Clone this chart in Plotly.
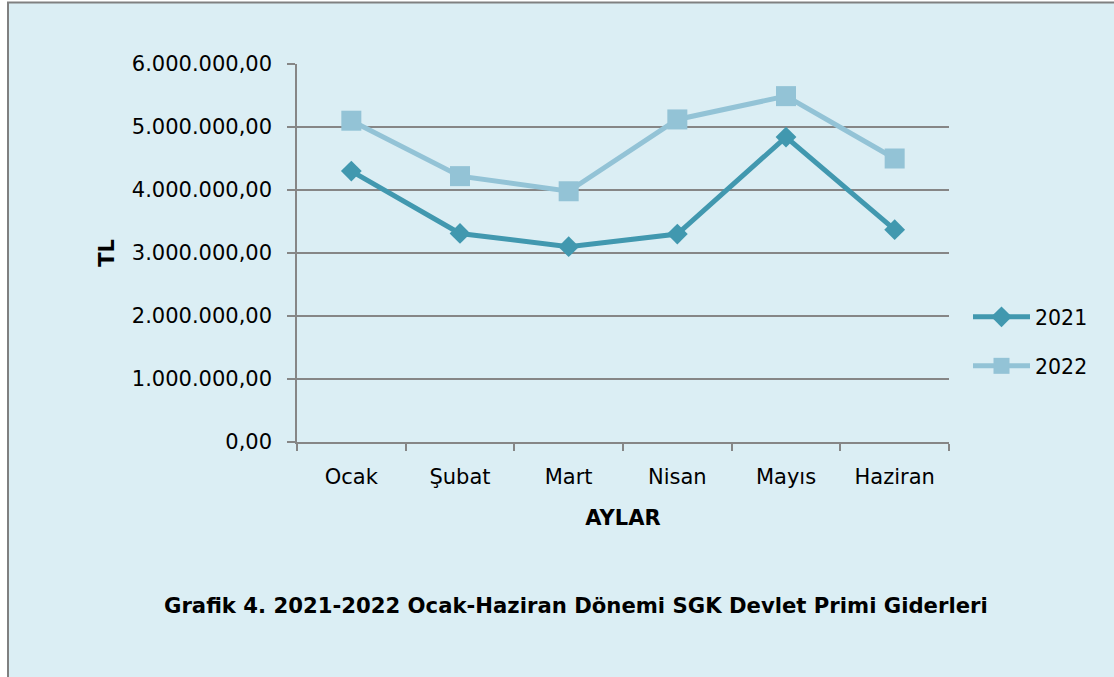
import plotly.graph_objects as go

months = ["Ocak", "Şubat", "Mart", "Nisan", "Mayıs", "Haziran"]
values_2021 = [4300000, 3310000, 3100000, 3300000, 4840000, 3370000]
values_2022 = [5100000, 4220000, 3980000, 5120000, 5490000, 4500000]
y_ticks = [0, 1000000, 2000000, 3000000, 4000000, 5000000, 6000000]

W, H = 1114, 677
FONT = "DejaVu Sans"
C21 = "#4198AF"
C22 = "#93C3D6"
BG = "#DBEEF4"
GRID = "#868686"

fig = go.Figure()
fig.add_trace(go.Scatter(
    x=months, y=values_2021, name="2021", mode="lines+markers",
    line=dict(color=C21, width=5),
    marker=dict(symbol="diamond", size=16, color=C21),
    legend="legend",
))
fig.add_trace(go.Scatter(
    x=months, y=values_2022, name="2022", mode="lines+markers",
    line=dict(color=C22, width=5),
    marker=dict(symbol="square", size=20, color=C22),
    legend="legend2",
))

# background panel with border
fig.add_shape(type="rect", xref="paper", yref="paper",
              x0=(8 - 297) / (949 - 297), x1=1.5,
              y0=-1.0, y1=(442 - 2.5) / (442 - 64),
              fillcolor=BG, line=dict(color="#808080", width=2), layer="below")

fig.add_annotation(
    text="<b>Grafik 4. 2021-2022 Ocak-Haziran Dönemi SGK Devlet Primi Giderleri</b>",
    xref="paper", yref="paper",
    x=(575.5 - 297) / (949 - 297), y=(442 - 605) / (442 - 64),
    showarrow=False, font=dict(family=FONT, size=21.2, color="black"),
    xanchor="center", yanchor="middle",
)

leg_common = dict(font=dict(family=FONT, size=20.5, color="black"),
                  bgcolor="rgba(0,0,0,0)", xanchor="left", yanchor="middle",
                  itemwidth=57, xref="paper", yref="paper")

fig.update_layout(
    width=W, height=H,
    margin=dict(l=297, r=W - 949, t=64, b=H - 442, pad=0),
    paper_bgcolor="white",
    plot_bgcolor="rgba(0,0,0,0)",
    separators=",.",
    font=dict(family=FONT, size=21, color="black"),
    showlegend=True,
    legend=dict(x=(968 - 297) / (949 - 297), y=(442 - 317) / (442 - 64), **leg_common),
    legend2=dict(x=(968 - 297) / (949 - 297), y=(442 - 366) / (442 - 64), **leg_common),
    xaxis=dict(
        type="category", range=[-0.5, 5.5],
        showline=True, linecolor=GRID, linewidth=1.5,
        ticks="outside", tickson="boundaries", ticklen=7, tickcolor=GRID, tickwidth=1.5,
        showgrid=False, zeroline=False,
        ticklabelstandoff=15,
        tickfont=dict(family=FONT, size=21, color="black"),
        title=dict(text="<b>AYLAR</b>", font=dict(family=FONT, size=21, color="black"), standoff=22),
    ),
    yaxis=dict(
        range=[0, 6000000], tickvals=y_ticks, tickformat=",.2f",
        showline=True, linecolor=GRID, linewidth=1.5,
        ticks="outside", ticklen=8, tickcolor=GRID, tickwidth=1.5,
        showgrid=True, gridcolor=GRID, gridwidth=1.5, zeroline=False,
        ticklabelstandoff=11,
        tickfont=dict(family=FONT, size=21, color="black"),
        title=dict(text="<b>TL</b>", font=dict(family=FONT, size=21, color="black"), standoff=11),
    ),
)

fig.write_html("out.html", config={"displayModeBar": False},
               post_script="document.body.style.margin='0px';")
